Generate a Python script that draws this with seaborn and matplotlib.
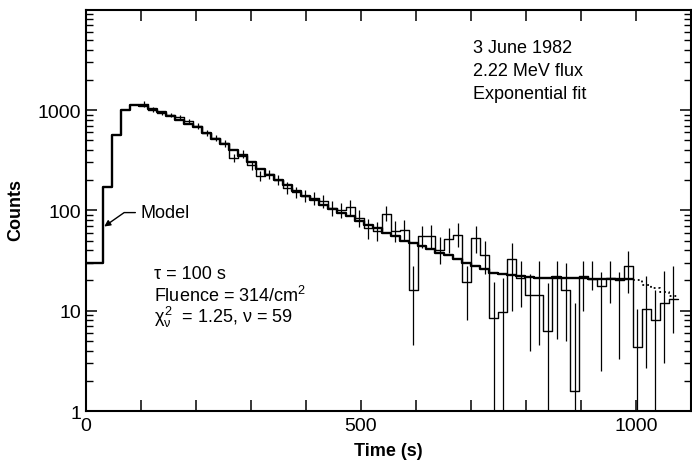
import numpy as np
import pandas as pd
import seaborn as sns
import matplotlib
matplotlib.use("Agg")
import matplotlib.pyplot as plt
from matplotlib.ticker import FixedLocator, FixedFormatter, LogLocator, NullFormatter

# bin width in seconds (time bins of the histogram)
bin_width = 16.3

# model counts per bin, bins 0..60 (solid part)
model_counts = [30, 30, 170, 560, 1000, 1130, 1100, 1020, 950, 880,
                800, 730, 670, 595, 520, 455, 398, 347, 301, 260,
                227, 200, 177, 155, 140, 126, 114, 104, 95, 87,
                79, 72, 66, 60, 55, 50, 47, 44, 41, 38,
                36, 33, 30, 28, 26, 24, 23, 22.5, 22, 21.5,
                21, 21, 21.5, 21, 21, 21, 20.5, 20.5, 20.5, 20.5, 20.5]
# faded tail of the model, bins 61..65
model_tail = [20, 18, 17, 15.5, 14]

# measured counts, bins 6..65
data_first_bin = 6
data_counts = [1150, 1000, 935, 890, 850, 770, 690, 590, 530, 466,
               331, 363, 282, 219, 229, 200, 166, 151, 139, 132,
               123, 105, 100, 108, 83, 66, 62, 93, 62, 63,
               16, 55, 55, 40, 52, 57, 19.5, 53, 36, 8.5,
               9.7, 33, 21, 14.5, 14.5, 6.3, 21, 16, 1.6, 22.4,
               20.6, 17.8, 21, 20, 27.9, 4.3, 10.5, 8, 12, 13]
err_low = [1080, 950, 885, 845, 805, 725, 650, 550, 495, 430,
           300, 330, 255, 195, 205, 178, 145, 132, 120, 114,
           105, 88, 84, 90, 68, 52, 49, 78, 48, 49,
           4.5, 42, 42, 29, 38, 43, 8, 38, 23, 1,
           1, 10, 11, 4, 4.5, 1, 5.2, 5, 1, 10,
           16, 2.5, 12, 3.3, 15, 1, 2.7, 1, 3, 6]
err_high = [1230, 1060, 985, 940, 900, 815, 735, 630, 570, 505,
            365, 400, 312, 245, 255, 225, 190, 172, 160, 152,
            143, 125, 118, 128, 100, 82, 77, 110, 78, 80,
            28, 70, 71, 54, 67, 74, 28, 70, 50, 19.5,
            21, 47, 31, 23, 31, 19, 31.6, 30, 12, 31.6,
            31, 24.5, 31, 24.5, 39, 10.5, 22, 16, 25, 28]

# axis ticks and labels
x_ticks = [0, 100, 200, 300, 400, 500, 600, 700, 800, 900, 1000]
x_tick_labels = ["0", "", "", "", "", "500", "", "", "", "", "1000"]
y_ticks = [1, 10, 100, 1000, 10000]
y_tick_labels = ["1", "10", "100", "1000", ""]

sns.set_theme(style="ticks")
plt.rcParams["font.family"] = ["Liberation Sans", "DejaVu Sans"]
plt.rcParams["text.color"] = "black"
plt.rcParams["mathtext.fontset"] = "custom"
plt.rcParams["mathtext.rm"] = "Liberation Sans"
plt.rcParams["mathtext.it"] = "Liberation Sans"

fig = plt.figure(figsize=(6.92, 4.64), dpi=100)
ax = fig.add_axes([0.1236, 0.112, 0.875, 0.865])

# step histogram tables
n_model = len(model_counts)
model_df = pd.DataFrame({
    "t": np.arange(n_model + 1) * bin_width,
    "c": model_counts + [model_counts[-1]],
})
tail_df = pd.DataFrame({
    "t": (n_model + np.arange(len(model_tail) + 1)) * bin_width,
    "c": model_tail + [model_tail[-1]],
})
n_data = len(data_counts)
data_df = pd.DataFrame({
    "t": (data_first_bin + np.arange(n_data + 1)) * bin_width,
    "c": data_counts + [data_counts[-1]],
})
centers = (data_first_bin + np.arange(n_data) + 0.5) * bin_width

sns.lineplot(data=model_df, x="t", y="c", drawstyle="steps-post", color="black",
             lw=1.7, estimator=None, sort=False, ax=ax)
sns.lineplot(data=tail_df, x="t", y="c", drawstyle="steps-post", color="black",
             lw=1.3, ls=":", estimator=None, sort=False, ax=ax)
sns.lineplot(data=data_df, x="t", y="c", drawstyle="steps-post", color="black",
             lw=1.0, estimator=None, sort=False, ax=ax)
ax.vlines(centers, err_low, err_high, color="black", lw=0.9)

ax.set_yscale("log")
ax.set_xlim(0, 1100)
ax.set_ylim(1, 10000)

# ticks: inward on all sides
ax.xaxis.set_major_locator(FixedLocator(x_ticks))
ax.xaxis.set_major_formatter(FixedFormatter(x_tick_labels))
ax.yaxis.set_major_locator(FixedLocator(y_ticks))
ax.yaxis.set_major_formatter(FixedFormatter(y_tick_labels))
ax.yaxis.set_minor_locator(LogLocator(base=10, subs=np.arange(2, 10)))
ax.yaxis.set_minor_formatter(NullFormatter())
ax.tick_params(axis="both", which="major", direction="in", top=True, right=True,
               length=8, width=1.1, labelsize=14, color="black", labelcolor="black")
ax.tick_params(axis="y", which="minor", direction="in", right=True, left=True,
               length=5, width=1.0, color="black")
ax.tick_params(axis="x", which="minor", bottom=False, top=False)
ax.tick_params(axis="x", which="major", pad=4)
ax.tick_params(axis="y", which="major", pad=3)
for s in ax.spines.values():
    s.set_linewidth(1.5)
    s.set_color("black")
ax.set_xlabel("")
ax.set_ylabel("")

fig.text(0.561, 0.028, "Time (s)", ha="center", va="center", fontsize=13,
         fontweight="bold", color="black")
fig.text(0.023, 0.548, "Counts", ha="center", va="center", rotation=90, fontsize=13,
         fontweight="bold", color="black")

# annotations
ax.text(0.64, 0.894, "3 June 1982", transform=ax.transAxes, fontsize=13, va="baseline")
ax.text(0.64, 0.837, "2.22 MeV flux", transform=ax.transAxes, fontsize=13, va="baseline")
ax.text(0.64, 0.780, "Exponential fit", transform=ax.transAxes, fontsize=13, va="baseline")

ax.text(0.113, 0.331, "τ = 100 s", transform=ax.transAxes, fontsize=13, va="baseline")
ax.text(0.113, 0.274, "Fluence = 314/cm$^2$", transform=ax.transAxes, fontsize=13, va="baseline")
ax.text(0.113, 0.222, "$χ^2_ν$  = 1.25, ν = 59", transform=ax.transAxes, fontsize=13, va="baseline")

ax.annotate("Model", xy=(34, 69), xytext=(99, 95), fontsize=13, va="center", ha="left",
            arrowprops=dict(arrowstyle="-|>", color="black", lw=1.0, mutation_scale=9,
                            shrinkA=1, shrinkB=0,
                            connectionstyle="angle,angleA=0,angleB=35,rad=0"))

fig.savefig("out.png", dpi=100)
